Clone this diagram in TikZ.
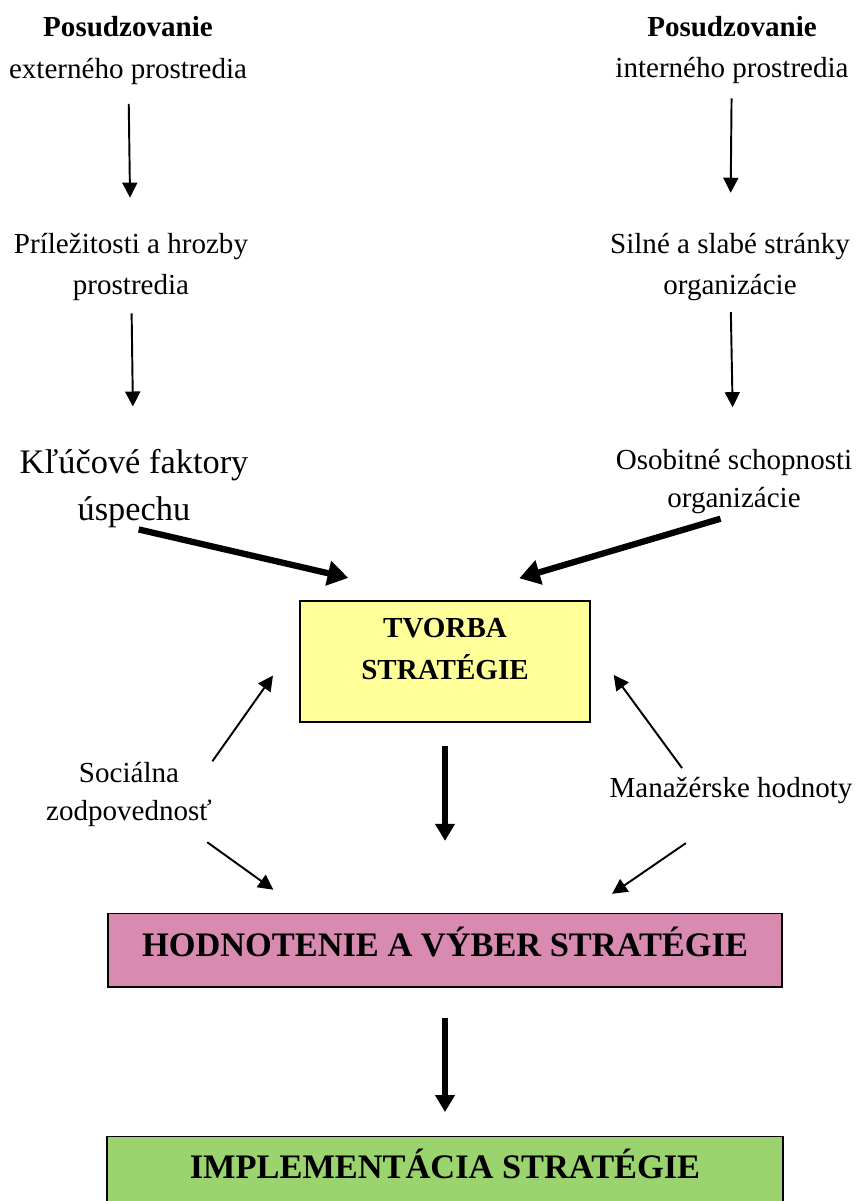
\documentclass[tikz,border=0pt]{standalone}
\usepackage{fontspec}
\setmainfont{Liberation Serif}
\usetikzlibrary{arrows.meta}
\definecolor{tvorbafill}{HTML}{FFFF99}
\definecolor{hodnfill}{HTML}{D98AB0}
\definecolor{implfill}{HTML}{9BD36F}
\tikzset{
	lbl/.style={align=center, inner sep=0pt, font=\fontsize{12}{17}\selectfont},
	thinarr/.style={line width=0.8pt, -{Triangle[length=6.2pt,width=6.2pt]}},
	fatarr/.style={line width=2.6pt, -{Triangle[length=8.5pt,width=10pt]}},
	downarr/.style={line width=2.4pt, -{Triangle[length=7pt,width=7.8pt]}},
	stratbox/.style={draw, line width=0.6pt, inner sep=0pt}
}
\begin{document}
\begin{tikzpicture}[x=0.413pt,y=-0.413pt]
	\useasboundingbox (0,0) rectangle (855,1201);
	% vstupy
	\node[lbl] (extA) at (128,50.5) {\textbf{Posudzovanie}\\externého prostredia};
	\node[lbl] (intA) at (732,50) {\textbf{Posudzovanie}\\interného prostredia};
	\node[lbl] (oppA) at (131,267) {Príležitosti a hrozby\\prostredia};
	\node[lbl] (strA) at (730,267) {Silné a slabé stránky\\organizácie};
	\node[lbl, font=\fontsize{14.2}{19.5}\selectfont] (ksfA) at (134,488.5) {Kľúčové faktory\\úspechu};
	\node[lbl, font=\fontsize{12}{15.7}\selectfont] (ocoA) at (734,482) {Osobitné schopnosti\\organizácie};
	\node[lbl, font=\fontsize{12}{15.7}\selectfont] (socA) at (129,794) {Sociálna\\zodpovednosť};
	\node[lbl] (manA) at (731,791) {Manažérske hodnoty};
	% boxy
	\node[stratbox, fill=tvorbafill, minimum width=119.8pt, minimum height=50pt] (tvorba) at (445,661.5) {};
	\node[lbl, font=\bfseries\fontsize{12}{17}\selectfont] (tvorbaT) at (445,649) {TVORBA\\STRATÉGIE};
	\node[stratbox, fill=hodnfill, anchor=north, minimum width=278.5pt, text height=17.8pt, text depth=12.4pt, font=\bfseries\fontsize{14.2}{17}\selectfont] (hodn) at (445,913) {HODNOTENIE A VÝBER STRATÉGIE};
	\node[stratbox, fill=implfill, anchor=north, minimum width=279pt, text height=17.4pt, text depth=25pt, font=\bfseries\fontsize{14.2}{17}\selectfont] (impl) at (445,1136) {IMPLEMENTÁCIA STRATÉGIE};
	% sipky
	\draw[thinarr, shorten <=7.9pt, shorten >=14.5pt] (extA) -- (oppA);
	\draw[thinarr, shorten <=5pt, shorten >=17.4pt] (oppA) -- (ksfA);
	\draw[thinarr, shorten <=5.8pt, shorten >=16.5pt] (intA) -- (strA);
	\draw[thinarr, shorten <=4.5pt, shorten >=17.4pt] (strA) -- (ocoA);
	\draw[fatarr, shorten <=2pt, shorten >=41pt] (ksfA.south) -- (tvorba.north);
	\draw[fatarr, shorten <=5.8pt, shorten >=32pt] (ocoA.south) -- (tvorba.north);
	\draw[thinarr, shorten >=18.8pt] (socA.north east) -- (tvorba.171);
	\draw[thinarr, shorten <=11pt, shorten >=16.5pt] (socA.-30.6) -- (hodn.165);
	\draw[thinarr, shorten <=4.7pt, shorten >=16pt] (manA.162) -- (tvorba.7);
	\draw[thinarr, shorten <=28pt, shorten >=14pt] (manA.-52) -- (hodn.15.8);
	\draw[downarr, shorten <=9.5pt, shorten >=29.8pt] (tvorba.south) -- (hodn.north);
	\draw[downarr, shorten <=12.4pt, shorten >=9.9pt] (hodn.south) -- (impl.north);
\end{tikzpicture}
\end{document}
